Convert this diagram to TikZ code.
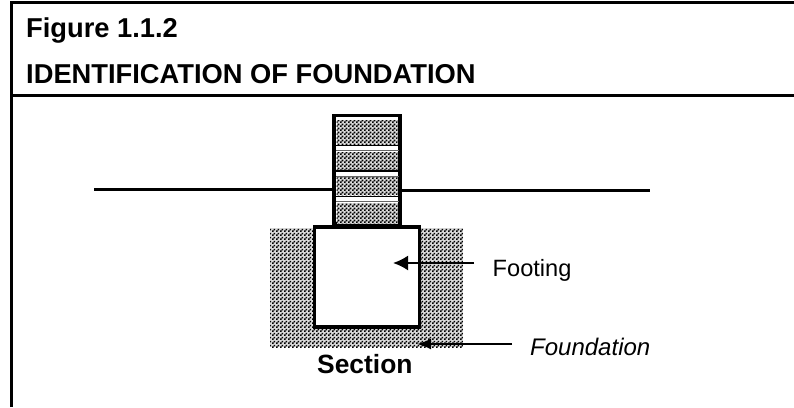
\documentclass[tikz,border=0pt]{standalone}
\usepackage{fontspec}
\setmainfont{Liberation Sans}
\usetikzlibrary{positioning, arrows.meta, patterns}
\pgfdeclarepatternformonly{checker}{\pgfpointorigin}{\pgfpoint{4pt}{4pt}}{\pgfpoint{4pt}{4pt}}{
 \pgfpathrectangle{\pgfpointorigin}{\pgfpoint{2pt}{2pt}}
 \pgfpathrectangle{\pgfpoint{2pt}{2pt}}{\pgfpoint{2pt}{2pt}}
 \pgfusepath{fill}
}
\tikzset{
block/.style={rectangle, draw, line width=3.6pt, fill=white, inner sep=0pt},
soil/.style={rectangle, fill=black!15, postaction={pattern=checker}, inner sep=0pt},
ground/.style={draw, line width=3pt},
frame/.style={draw, line width=3pt},
line/.style={draw, line width=2pt, -{Latex[length=15pt,width=15pt]}},
heading/.style={font=\bfseries\fontsize{27.3}{32}\selectfont, anchor=base west, inner sep=0pt},
note/.style={font=\fontsize{23.6}{28}\selectfont, anchor=base west, inner sep=0pt}
}

\begin{document}
\begin{tikzpicture}[x=1pt,y=-1pt]
 \useasboundingbox (0,0) rectangle (794,407);

 % header frame
 \coordinate (TL) at (11,2.5);
 \coordinate (TR) at (794,2.5);
 \coordinate (HL) at (11,95.5);
 \coordinate (HR) at (794,95.5);
 \coordinate (BL) at (11,407);
 \draw[frame] (BL) -- (TL) -- (TR);
 \draw[frame] (HL) -- (HR);
 \node[heading] (title) at (26,37) {Figure 1.1.2};
 \node[heading] (subtitle) at (26,83) {IDENTIFICATION OF FOUNDATION};

 % excavation and footing
 \node[soil, minimum width=193pt, minimum height=119pt] (pit) at (366.5,287.5) {};
 \node[block, minimum width=105pt, minimum height=100pt] (footing) at (367,277) {};

 % wall
 \node[block, minimum width=66pt, minimum height=108pt, above=0pt of footing.north] (wall) {};
 \foreach \Y/\H in {132.5/25,161/18,186/18,213.5/21}
  {\node[soil, minimum width=61pt, minimum height=\H pt] (course\Y) at (367,\Y) {};}
 \foreach \Y in {148,173.5,199}
  {\draw[line width=1.6pt] (336,\Y-2.5) -- (399,\Y-2.5);
   \draw[line width=1pt,black!60] (336,\Y+2.5) -- (399,\Y+2.5);}

 % ground
 \coordinate (GL) at (94,189.5);
 \coordinate (GR) at (650,190);
 \draw[ground] (GL) -- (wall.west |- GL);
 \draw[ground] (wall.east |- GR) -- (GR);

 % labels
 \node[note] (lblFooting) at (492.5,276) {Footing};
 \node[note,font=\itshape\fontsize{24}{28}\selectfont] (lblFoundation) at (530,355) {Foundation};
 \node[heading,font=\bfseries\fontsize{26.4}{32}\selectfont] (lblSection) at (317,373) {Section};

 \coordinate (tipFooting) at (393,263);
 \coordinate (tailFooting) at (474,263);
 \coordinate (tipFoundation) at (417,344);
 \coordinate (tailFoundation) at (512,344);
 \draw[line] (tailFooting) -- (tipFooting);
 \draw[line,-{Latex[length=14pt,width=11pt]}] (tailFoundation) -- (tipFoundation);
\end{tikzpicture}
\end{document}
